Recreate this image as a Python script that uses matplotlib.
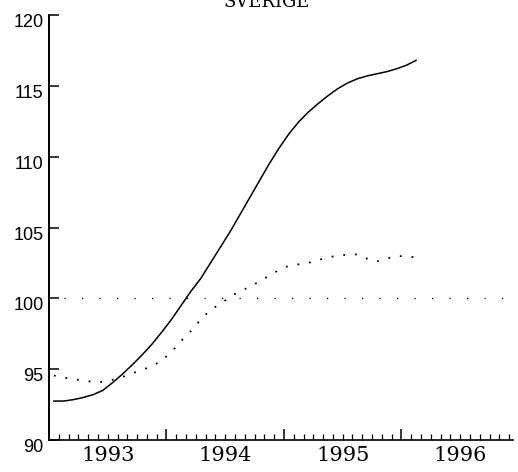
import numpy as np
import matplotlib.pyplot as plt
from matplotlib.ticker import FixedLocator, FixedFormatter, NullFormatter
from matplotlib.transforms import ScaledTranslation

# monthly data, Jan 1993 - Feb 1996
start_year = 1993
solid = [92.75, 92.75, 92.85, 93.0, 93.2, 93.5, 94.05, 94.65, 95.3, 96.0, 96.75, 97.6,
         98.5, 99.5, 100.5, 101.4, 102.5, 103.6, 104.7, 105.9, 107.1, 108.3, 109.5, 110.6,
         111.6, 112.45, 113.15, 113.75, 114.3, 114.8, 115.2, 115.5, 115.7, 115.85, 116.0, 116.2,
         116.45, 116.8]
dotted = [94.55, 94.4, 94.3, 94.2, 94.1, 94.1, 94.25, 94.45, 94.7, 94.95, 95.2, 95.6,
          96.2, 97.0, 97.7, 98.5, 99.2, 99.6, 100.1, 100.5, 100.8, 101.2, 101.6, 102.0,
          102.3, 102.4, 102.5, 102.7, 102.9, 103.0, 103.1, 103.1, 102.8, 102.6, 102.8, 103.0,
          102.95, 102.9]
ref_level = 100
years = [1993, 1994, 1995, 1996]
y_ticks = [90, 95, 100, 105, 110, 115, 120]

t = start_year + (np.arange(len(solid)) + 0.5) / 12

fig = plt.figure(figsize=(5.18, 4.72), dpi=100)
ax = fig.add_axes([49 / 518, 32 / 472, 464 / 518, 425 / 472])

ax.plot(t, solid, color='black', linewidth=1.1)
ax.plot(t, dotted, color='black', linewidth=1.3, linestyle=(0, (1, 5.5)))
ax.plot([1993.13, 1996.95], [ref_level, ref_level], color='black', linewidth=0.9,
        linestyle=(0, (1, 13)))

ax.set_xlim(1993.0, 1996.95)
ax.set_ylim(90, 120)

for s in ['top', 'right']:
    ax.spines[s].set_visible(False)
ax.spines['left'].set_linewidth(1.4)
ax.spines['bottom'].set_linewidth(1.2)

# y axis
ax.set_yticks(y_ticks)
ax.set_yticklabels([str(v) for v in y_ticks], fontfamily='Liberation Sans', fontsize=13)
ax.tick_params(axis='y', direction='in', length=7, width=1.1, pad=4)
for lab in ax.get_yticklabels():
    lab.set_transform(lab.get_transform() + ScaledTranslation(0, -4 / 72, fig.dpi_scale_trans))

# x axis: year boundaries as major ticks, months as minor, labels mid-year
ax.xaxis.set_major_locator(FixedLocator(years + [1997]))
ax.xaxis.set_major_formatter(NullFormatter())
months = [start_year + k / 12 for k in range(1, 48) if k % 12 != 0]
ax.xaxis.set_minor_locator(FixedLocator(months))
labels = []
for m in months:
    if abs((m % 1) - 0.5) < 1e-6:
        labels.append(str(int(m)))
    else:
        labels.append('')
ax.xaxis.set_minor_formatter(FixedFormatter(labels))
ax.tick_params(axis='x', which='major', direction='in', length=8, width=1.1)
ax.tick_params(axis='x', which='minor', direction='in', length=4.5, width=0.9, pad=4)
for lab in ax.get_xticklabels(minor=True):
    lab.set_fontfamily('DejaVu Serif')
    lab.set_fontsize(15)

fig.text(267 / 518, 465 / 472, 'SVERIGE', ha='center', va='baseline',
         fontfamily='DejaVu Serif', fontsize=13)

fig.savefig('out.png', dpi=100)
